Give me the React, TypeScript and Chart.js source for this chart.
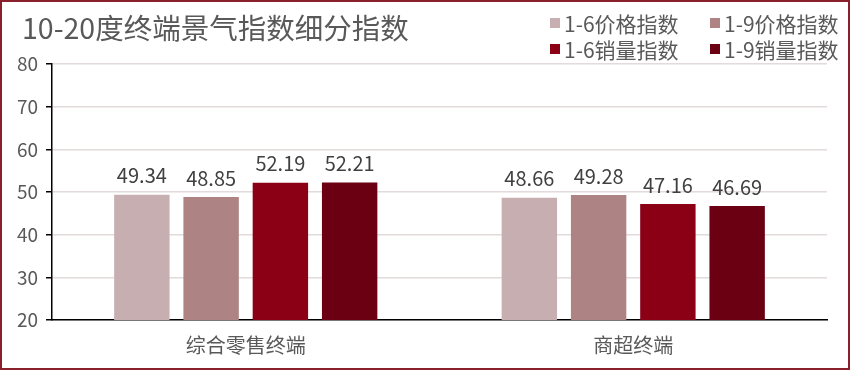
import React, { useEffect, useRef } from "react";
import { Chart, registerables } from "chart.js";

Chart.register(...registerables);

const TITLE = "10-20度终端景气指数细分指数";
const categories = ["综合零售终端", "商超终端"];
const seriesNames = ["1-6价格指数", "1-9价格指数", "1-6销量指数", "1-9销量指数"];
const price16 = [49.34, 48.66];
const price19 = [48.85, 49.28];
const sales16 = [52.19, 47.16];
const sales19 = [52.21, 46.69];
const seriesColors = ["#C7AFB1", "#AD8384", "#8C0016", "#6B0012"];
const yTicks = [20, 30, 40, 50, 60, 70, 80];

const FONT = '"Noto Sans CJK SC", "Noto Sans", sans-serif';

const overlayPlugin = {
  id: "overlay",
  beforeDraw(chart: any) {
    const ctx = chart.ctx;
    ctx.save();
    ctx.fillStyle = "#ffffff";
    ctx.fillRect(0, 0, chart.width, chart.height);
    ctx.restore();
  },
  afterDatasetsDraw(chart: any) {
    const ctx = chart.ctx;
    ctx.save();
    // data labels
    ctx.font = `20px ${FONT}`;
    ctx.fillStyle = "#404040";
    ctx.textAlign = "center";
    ctx.textBaseline = "bottom";
    chart.data.datasets.forEach((ds: any, i: number) => {
      const meta = chart.getDatasetMeta(i);
      meta.data.forEach((bar: any, j: number) => {
        ctx.fillText(ds.data[j].toFixed(2), bar.x, bar.y - 9);
      });
    });
    // title
    ctx.font = `28.5px ${FONT}`;
    ctx.fillStyle = "#595959";
    ctx.textAlign = "left";
    ctx.textBaseline = "middle";
    ctx.fillText(TITLE, 22, 28);
    // legend
    ctx.font = `21px ${FONT}`;
    const pos = [
      [550, 23],
      [710, 23],
      [550, 49],
      [710, 49],
    ];
    chart.data.datasets.forEach((ds: any, i: number) => {
      const [x, y] = pos[i];
      ctx.fillStyle = ds.backgroundColor;
      ctx.fillRect(x, y - 5, 10, 10);
      ctx.fillStyle = "#595959";
      ctx.fillText(ds.label, x + 14, y + 1);
    });
    // frame
    ctx.strokeStyle = "#8A1F2C";
    ctx.lineWidth = 2;
    ctx.strokeRect(1, 1, chart.width - 2, chart.height - 2);
    ctx.restore();
  },
};

export default function App() {
  const ref = useRef<HTMLCanvasElement>(null);
  useEffect(() => {
    const values = [price16, price19, sales16, sales19];
    const chart = new Chart(ref.current!, {
      type: "bar",
      data: {
        labels: categories,
        datasets: seriesNames.map((name, i) => ({
          label: name,
          data: values[i],
          backgroundColor: seriesColors[i],
          borderWidth: 0,
          barPercentage: 0.8,
          categoryPercentage: 0.715,
        })),
      },
      options: {
        animation: false,
        responsive: false,
        devicePixelRatio: 1,
        layout: { padding: { top: 64, right: 23, left: 0, bottom: 0 } },
        plugins: {
          legend: { display: false },
          tooltip: { enabled: false },
          title: { display: false },
        },
        scales: {
          x: {
            grid: { display: false, drawTicks: false },
            border: { display: true, color: "#000000", width: 1.5 },
            ticks: {
              font: { size: 20, family: FONT },
              color: "#595959",
              padding: 13,
            },
            afterFit(scale: any) {
              scale.height = 50;
            },
          },
          y: {
            min: 20,
            max: 80,
            afterBuildTicks(scale: any) {
              scale.ticks = yTicks.map((v) => ({ value: v }));
            },
            grid: {
              color: "#E3DADA",
              lineWidth: 1.5,
              tickLength: 6,
              tickColor: "#000000",
            },
            border: { display: true, color: "#000000", width: 1.5 },
            ticks: {
              font: { size: 19, family: FONT },
              color: "#595959",
              padding: 8,
            },
            afterFit(scale: any) {
              scale.width = 52;
            },
          },
        },
      },
      plugins: [overlayPlugin],
    });
    return () => chart.destroy();
  }, []);
  return (
    <div style={{ position: "fixed", left: 0, top: 0, width: 850, height: 370 }}>
      <canvas ref={ref} width={850} height={370} style={{ width: 850, height: 370 }} />
    </div>
  );
}
